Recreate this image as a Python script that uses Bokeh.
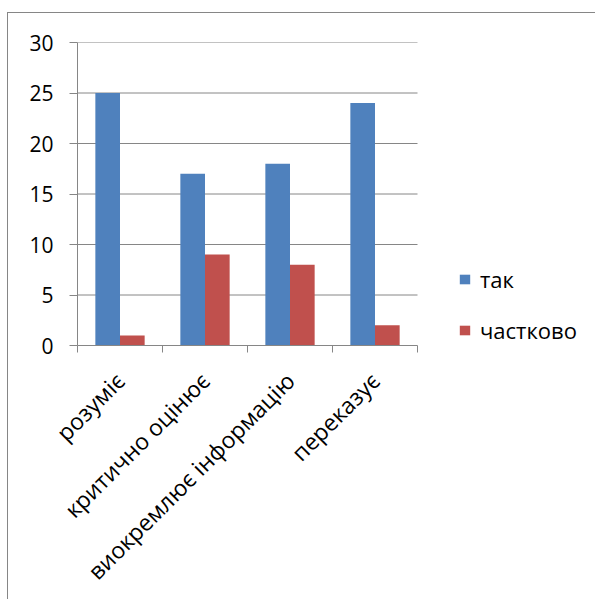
from bokeh.plotting import figure
from bokeh.models import (ColumnDataSource, Range1d, FixedTicker, Legend, LegendItem)
from bokeh.transform import dodge
from bokeh.embed import file_html
from bokeh.resources import INLINE

categories = ["розуміє", "критично оцінює", "виокремлює інформацію", "переказує"]
series_names = ["так", "частково"]
tak = [25, 17, 18, 24]
chastkovo = [1, 9, 8, 2]
y_ticks = [0, 5, 10, 15, 20, 25, 30]

colors = ["#4F81BD", "#C0504D"]
FONT = "Open Sans"
GRAY = "#868686"

n = len(categories)
pos = list(range(n))
src = ColumnDataSource(data=dict(pos=pos, tak=tak, chastkovo=chastkovo))

FRAME_W = 518
CAT_PX = 85
x_end = -0.5 + FRAME_W / CAT_PX

p = figure(frame_width=FRAME_W, frame_height=303, output_backend="svg", toolbar_location=None,
           x_range=Range1d(-0.5, x_end), y_range=Range1d(0, 30),
           min_border_left=69, min_border_right=0, min_border_top=29,
           min_border_bottom=240)
p.margin = (12, 0, 0, 7)
p.styles = {"border-left": f"1px solid {GRAY}", "border-top": f"1px solid {GRAY}"}
p.outline_line_color = None
p.background_fill_color = "white"
p.border_fill_color = "white"
p.xgrid.grid_line_color = None
p.ygrid.grid_line_color = None

# horizontal gridlines limited to the category area
grid_src = ColumnDataSource(data=dict(y=y_ticks[1:]))
p.segment(x0=-0.5, x1=n - 0.5, y0="y", y1="y", source=grid_src,
          line_color=GRAY, line_width=1)

bw = 0.29
r1 = p.vbar(x=dodge("pos", -bw / 2, range=p.x_range), top="tak", width=bw, source=src,
            fill_color=colors[0], line_color=None)
r2 = p.vbar(x=dodge("pos", bw / 2, range=p.x_range), top="chastkovo", width=bw, source=src,
            fill_color=colors[1], line_color=None)

# x axis
xa = p.xaxis[0]
xa.bounds = (-0.5, n - 0.5)
xa.ticker = FixedTicker(ticks=pos, minor_ticks=[i - 0.5 for i in range(n + 1)])
xa.major_label_overrides = {i: c for i, c in enumerate(categories)}
xa.major_label_orientation = 0.785398
xa.major_tick_line_color = None
xa.major_tick_out = 0
xa.major_tick_in = 0
xa.minor_tick_out = 7
xa.minor_tick_in = 0
xa.minor_tick_line_color = GRAY
xa.axis_line_color = GRAY
xa.major_label_text_font = FONT
xa.major_label_text_font_size = "23px"
xa.major_label_text_color = "black"
xa.major_label_standoff = 24

# y axis
ya = p.yaxis[0]
ya.ticker = FixedTicker(ticks=y_ticks)
ya.major_tick_out = 8
ya.major_tick_in = 0
ya.major_tick_line_color = GRAY
ya.minor_tick_line_color = None
ya.axis_line_color = GRAY
ya.major_label_text_font = FONT
ya.major_label_text_font_size = "21px"
ya.major_label_text_color = "black"
ya.major_label_standoff = 16

legend = Legend(items=[LegendItem(label=series_names[0], renderers=[r1]),
                       LegendItem(label=series_names[1], renderers=[r2])],
                location=(381, 0), orientation="vertical")
legend.border_line_color = None
legend.background_fill_alpha = 0
legend.padding = 0
legend.margin = 0
legend.glyph_width = 13
legend.glyph_height = 12
legend.label_standoff = 9
legend.spacing = 21
legend.label_text_font = FONT
legend.label_text_font_size = "22px"
legend.label_text_color = "black"
legend.label_text_baseline = "middle"
p.add_layout(legend, "center")

open("out.html", "w").write(file_html(p, INLINE))
